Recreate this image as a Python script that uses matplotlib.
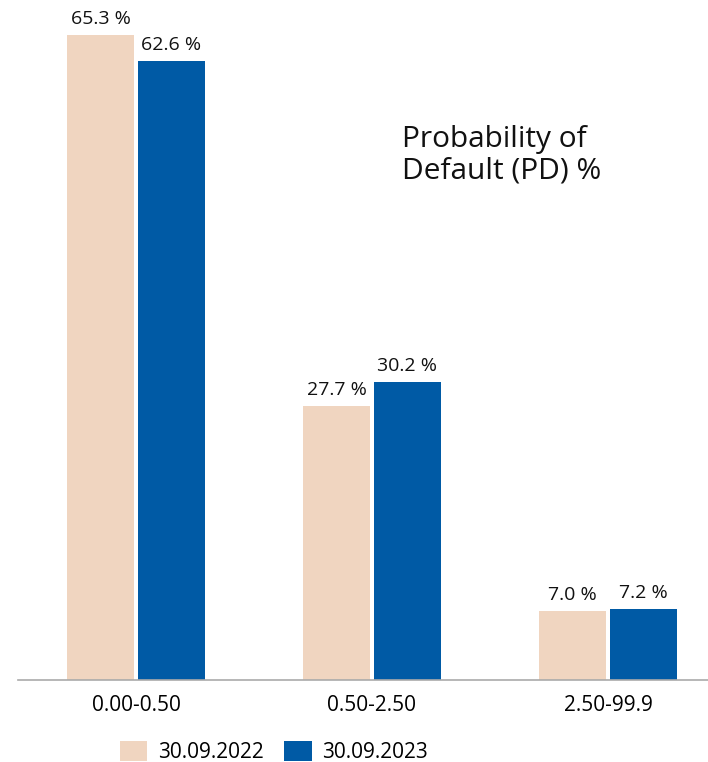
import matplotlib.pyplot as plt
import numpy as np

plt.rcParams['font.family'] = ['Open Sans', 'DejaVu Sans']

categories = ['0.00-0.50', '0.50-2.50', '2.50-99.9']
pd_2022 = [65.3, 27.7, 7.0]
pd_2023 = [62.6, 30.2, 7.2]
series_names = ['30.09.2022', '30.09.2023']

peach = '#F0D5C0'
blue = '#005AA5'

fig = plt.figure(figsize=(7.08, 7.62), dpi=100)
ax = fig.add_axes([18 / 708, 82 / 762, 690 / 708, 680 / 762])

x = np.arange(len(categories))
w = 0.284
off = 0.150

b1 = ax.bar(x - off, pd_2022, w, color=peach, label=series_names[0])
b2 = ax.bar(x + off, pd_2023, w, color=blue, label=series_names[1])

for bars, vals in [(b1, pd_2022), (b2, pd_2023)]:
    for rect, v in zip(bars, vals):
        ax.text(rect.get_x() + rect.get_width() / 2, v + 0.7, f'{v:.1f} %',
                ha='center', va='bottom', fontsize=14, color='#111111')

ax.set_xlim(-0.5, 2.424)
ax.set_ylim(0, 68.8)

for s in ['top', 'right', 'left']:
    ax.spines[s].set_visible(False)
ax.spines['bottom'].set_color('#AAAAAA')
ax.spines['bottom'].set_linewidth(1.2)

ax.set_yticks([])
ax.set_xticks(x)
ax.set_xticklabels(categories, fontsize=15)
ax.tick_params(axis='x', length=0, pad=11)

fig.text(402 / 708, 1 - 125 / 762, 'Probability of\nDefault (PD) %',
         ha='left', va='top', fontsize=21.5, color='#111111', linespacing=1.1)

fig.legend(handles=[b1, b2], loc='lower center', bbox_to_anchor=(274 / 708, -0.026),
           ncol=2, frameon=False, fontsize=15, handlelength=1.3, handleheight=1.1,
           handletextpad=0.5, columnspacing=1.0)

fig.savefig('out.png', dpi=100)
